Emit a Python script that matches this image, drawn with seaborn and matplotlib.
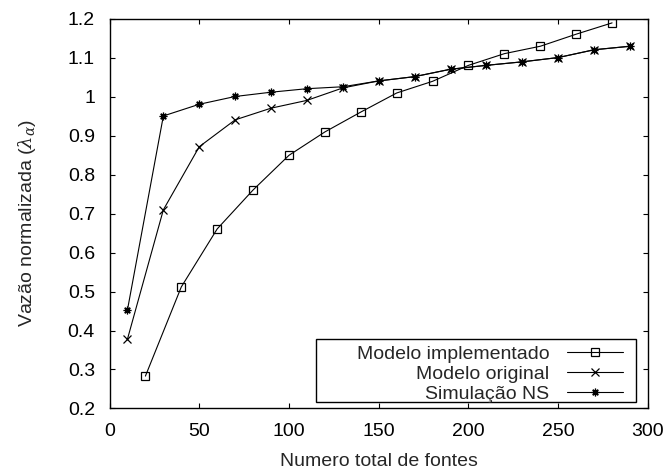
import matplotlib
matplotlib.use("Agg")
import matplotlib.pyplot as plt
from matplotlib.patches import Rectangle
import seaborn as sns

# Data
x_impl = [20, 40, 60, 80, 100, 120, 140, 160, 180, 200, 220, 240, 260, 280]
y_impl = [0.283, 0.512, 0.661, 0.761, 0.85, 0.91, 0.961, 1.01, 1.04, 1.081, 1.111, 1.13, 1.161, 1.19]

x_orig = [10, 30, 50, 70, 90, 110, 130, 150, 170, 190, 210, 230, 250, 270, 290]
y_orig = [0.378, 0.71, 0.872, 0.941, 0.971, 0.991, 1.023, 1.041, 1.052, 1.071, 1.081, 1.09, 1.101, 1.121, 1.13]

x_ns = [10, 30, 50, 70, 90, 110, 130, 150, 170, 190, 210, 230, 250, 270, 290]
y_ns = [0.453, 0.951, 0.981, 1.001, 1.012, 1.021, 1.026, 1.041, 1.052, 1.071, 1.081, 1.09, 1.101, 1.121, 1.13]

labels = ["Modelo implementado", "Modelo original", "Simulação NS"]
x_ticks = [0, 50, 100, 150, 200, 250, 300]
y_ticks = [0.2, 0.3, 0.4, 0.5, 0.6, 0.7, 0.8, 0.9, 1.0, 1.1, 1.2]
y_tick_labels = ["0.2", "0.3", "0.4", "0.5", "0.6", "0.7", "0.8", "0.9", "1", "1.1", "1.2"]

sns.set_style("ticks")
plt.rcParams["font.family"] = ["Liberation Sans", "DejaVu Sans"]
plt.rcParams["mathtext.fontset"] = "dejavuserif"

fig = plt.figure(figsize=(6.71, 4.70), dpi=100)
ax = fig.add_axes([0.1632, 0.131, 0.8025, 0.8286])

common = dict(color="black", linewidth=0.8, markersize=5.5, markeredgewidth=0.9, ax=ax)
sns.lineplot(x=x_impl, y=y_impl, marker="s", fillstyle="none", markeredgecolor="black",
             label=labels[0], **common)
sns.lineplot(x=x_orig, y=y_orig, marker="x", markeredgecolor="black", label=labels[1], **common)
sns.lineplot(x=x_ns, y=y_ns, marker=(8, 2, 0), markeredgecolor="black", label=labels[2], **common)

ax.set_xlim(0, 300)
ax.set_ylim(0.2, 1.2)
ax.set_xticks(x_ticks)
ax.set_yticks(y_ticks)
ax.set_yticklabels(y_tick_labels)
ax.tick_params(direction="in", top=True, right=True, length=3.6, width=0.8,
               labelsize=14, colors="black", pad=10.5)
for s in ax.spines.values():
    s.set_visible(True)
    s.set_color("black")
    s.set_linewidth(1.0)

ax.set_xlabel("Numero total de fontes", fontsize=14, labelpad=9)
ax.set_ylabel(r"Vazão normalizada ($\lambda_\alpha$)", fontsize=14)
ax.yaxis.set_label_coords(-0.133, 0.476)

# key box (gnuplot style)
box = Rectangle((0.3835, 0.0175), 0.9777 - 0.3835, 0.1784 - 0.0175, transform=ax.transAxes,
                facecolor="white", edgecolor="black", linewidth=1.0, zorder=4.5)
ax.add_patch(box)

leg = ax.legend(loc="lower right", bbox_to_anchor=(0.9536, 0.014), markerfirst=False,
                frameon=False, fontsize=14, borderaxespad=0, borderpad=0,
                labelspacing=0.115, handlelength=2.9, handletextpad=0.88)
leg.set_zorder(5)

fig.savefig("out.png", dpi=100)
